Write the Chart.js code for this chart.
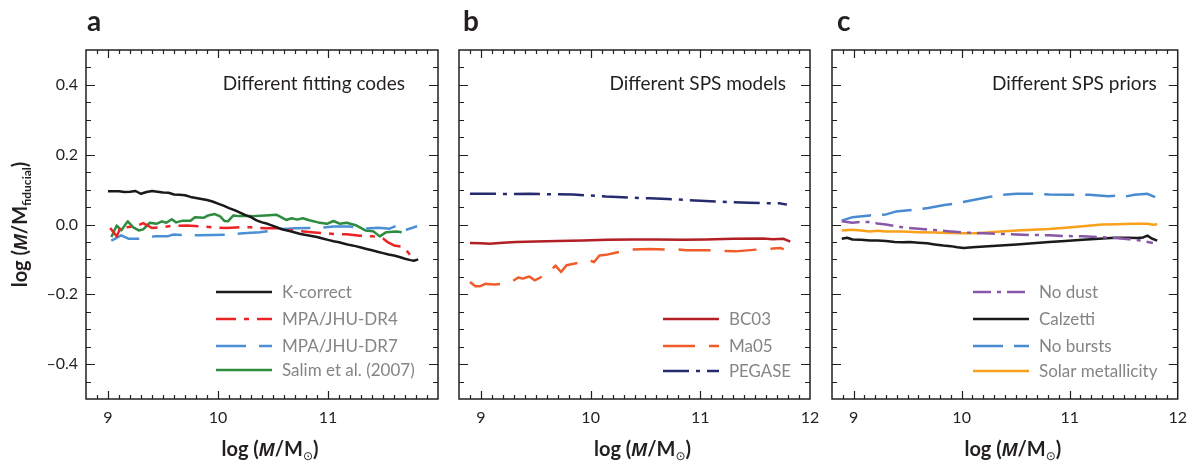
<!DOCTYPE html>
<html><head><meta charset="utf-8">
<script src="https://cdn.jsdelivr.net/npm/chart.js@4.4.1/dist/chart.umd.min.js"></script>
<style>
html,body{margin:0;padding:0;background:#fff;}
#wrap{position:relative;width:1196px;height:462px;background:#fff;}
canvas{position:absolute;left:0;top:0;}
</style></head><body>
<div id="wrap">
<canvas id="ca" width="1196" height="462"></canvas>
<canvas id="cb" width="1196" height="462"></canvas>
<canvas id="cc" width="1196" height="462"></canvas>
</div>
<script>
// ---------- DATA ----------
const panelLetters = ['a', 'b', 'c'];
const panelTitles = ['Different fitting codes', 'Different SPS models', 'Different SPS priors'];
const yTickValues = [-0.4, -0.2, 0, 0.2, 0.4];
const xTickValues = [9, 10, 11, 12];

// Panel a: different fitting codes  [log M, delta log M]
const labelsA = ['K-correct', 'MPA/JHU-DR4', 'MPA/JHU-DR7', 'Salim et al. (2007)'];
const kCorrect = [[9.00,0.095],[9.05,0.095],[9.10,0.095],[9.15,0.093],[9.20,0.094],[9.25,0.096],[9.30,0.088],[9.35,0.093],[9.40,0.096],[9.45,0.094],[9.50,0.092],[9.55,0.091],[9.60,0.086],[9.65,0.085],[9.70,0.084],[9.75,0.079],[9.80,0.076],[9.85,0.073],[9.90,0.070],[9.95,0.066],[10.00,0.060],[10.05,0.054],[10.10,0.047],[10.15,0.041],[10.20,0.034],[10.25,0.027],[10.30,0.021],[10.35,0.012],[10.40,0.006],[10.45,0.002],[10.50,-0.004],[10.55,-0.010],[10.60,-0.015],[10.65,-0.019],[10.70,-0.023],[10.75,-0.027],[10.80,-0.030],[10.85,-0.033],[10.90,-0.036],[10.95,-0.040],[11.00,-0.044],[11.05,-0.048],[11.10,-0.051],[11.15,-0.055],[11.20,-0.059],[11.25,-0.062],[11.30,-0.066],[11.35,-0.070],[11.40,-0.074],[11.45,-0.078],[11.50,-0.082],[11.55,-0.086],[11.60,-0.089],[11.65,-0.093],[11.70,-0.098],[11.75,-0.102],[11.78,-0.104],[11.82,-0.100]];
const mpaDR4 = [[9.02,-0.010],[9.05,-0.022],[9.08,-0.034],[9.12,-0.003],[9.16,-0.008],[9.22,-0.006],[9.27,-0.003],[9.32,0.004],[9.40,-0.010],[9.49,-0.008],[9.58,-0.004],[9.72,-0.003],[9.87,-0.006],[10.00,-0.009],[10.08,-0.010],[10.20,-0.008],[10.30,-0.008],[10.43,-0.011],[10.55,-0.011],[10.67,-0.017],[10.85,-0.022],[11.05,-0.027],[11.17,-0.028],[11.29,-0.032],[11.41,-0.034],[11.50,-0.040],[11.55,-0.052],[11.60,-0.060],[11.69,-0.065],[11.75,-0.089],[11.78,-0.103]];
const mpaDR7 = [[9.03,-0.046],[9.08,-0.038],[9.12,-0.031],[9.19,-0.041],[9.28,-0.041],[9.35,-0.038],[9.42,-0.034],[9.54,-0.034],[9.59,-0.029],[9.70,-0.030],[9.82,-0.031],[9.95,-0.030],[10.08,-0.029],[10.23,-0.025],[10.38,-0.022],[10.47,-0.019],[10.53,-0.014],[10.70,-0.011],[10.89,-0.010],[11.05,-0.006],[11.20,-0.006],[11.32,-0.012],[11.46,-0.009],[11.56,-0.012],[11.62,-0.004],[11.67,-0.020],[11.74,-0.012],[11.81,-0.005]];
const salim = [[9.03,-0.036],[9.08,-0.003],[9.12,-0.017],[9.18,0.009],[9.23,-0.008],[9.28,-0.017],[9.32,-0.014],[9.38,0.005],[9.44,0.002],[9.49,0.009],[9.53,0.005],[9.58,0.015],[9.62,0.006],[9.68,0.011],[9.75,0.011],[9.79,0.021],[9.87,0.019],[9.91,0.026],[9.97,0.030],[10.02,0.023],[10.06,0.010],[10.09,0.009],[10.14,0.026],[10.19,0.024],[10.31,0.024],[10.43,0.026],[10.53,0.028],[10.62,0.013],[10.67,0.018],[10.72,0.014],[10.77,0.018],[10.83,0.012],[10.91,0.006],[10.99,0.002],[11.05,0.010],[11.11,0.002],[11.17,0.005],[11.26,-0.003],[11.34,-0.017],[11.41,-0.019],[11.47,-0.034],[11.53,-0.022],[11.62,-0.020],[11.67,-0.022]];

// Panel b: different SPS models
const labelsB = ['BC03', 'Ma05', 'PEGASE'];
const bc03 = [[8.90,-0.053],[9.00,-0.054],[9.08,-0.055],[9.20,-0.052],[9.32,-0.050],[9.50,-0.049],[9.70,-0.047],[9.93,-0.046],[10.15,-0.044],[10.38,-0.043],[10.60,-0.043],[10.84,-0.044],[11.05,-0.043],[11.30,-0.041],[11.57,-0.040],[11.66,-0.042],[11.76,-0.041],[11.82,-0.049]];
const ma05 = [[8.90,-0.165],[8.95,-0.177],[8.99,-0.177],[9.04,-0.170],[9.08,-0.171],[9.13,-0.172],[9.26,-0.168],[9.34,-0.152],[9.38,-0.155],[9.44,-0.149],[9.49,-0.160],[9.61,-0.141],[9.68,-0.118],[9.73,-0.136],[9.78,-0.117],[9.92,-0.108],[9.98,-0.101],[10.03,-0.108],[10.08,-0.089],[10.14,-0.087],[10.28,-0.077],[10.35,-0.072],[10.54,-0.070],[10.69,-0.072],[10.78,-0.071],[10.87,-0.074],[11.11,-0.074],[11.32,-0.077],[11.51,-0.072],[11.66,-0.069],[11.73,-0.067],[11.76,-0.071]];
const pegase = [[8.90,0.088],[9.10,0.088],[9.29,0.087],[9.45,0.088],[9.60,0.087],[9.84,0.086],[10.00,0.083],[10.14,0.080],[10.35,0.077],[10.54,0.075],[10.70,0.073],[10.84,0.071],[11.00,0.068],[11.14,0.066],[11.30,0.064],[11.45,0.062],[11.60,0.061],[11.72,0.061],[11.79,0.057]];

// Panel c: different SPS priors
const labelsC = ['No dust', 'Calzetti', 'No bursts', 'Solar metallicity'];
const noDust = [[8.89,0.009],[8.99,0.005],[9.07,0.008],[9.15,0.007],[9.22,0.003],[9.30,0.000],[9.45,-0.008],[9.60,-0.012],[9.75,-0.016],[9.90,-0.020],[10.05,-0.023],[10.21,-0.025],[10.36,-0.027],[10.51,-0.029],[10.66,-0.030],[10.81,-0.031],[10.96,-0.033],[11.12,-0.034],[11.27,-0.036],[11.42,-0.039],[11.55,-0.042],[11.66,-0.046],[11.77,-0.053]];
const calzetti = [[8.89,-0.041],[8.94,-0.038],[8.99,-0.043],[9.07,-0.044],[9.15,-0.046],[9.22,-0.046],[9.30,-0.047],[9.38,-0.050],[9.45,-0.051],[9.52,-0.050],[9.60,-0.052],[9.68,-0.054],[9.75,-0.057],[9.83,-0.060],[9.90,-0.062],[9.96,-0.065],[10.02,-0.067],[10.10,-0.065],[10.21,-0.063],[10.36,-0.060],[10.51,-0.057],[10.66,-0.054],[10.81,-0.050],[10.96,-0.047],[11.12,-0.044],[11.27,-0.041],[11.42,-0.038],[11.52,-0.038],[11.63,-0.039],[11.68,-0.037],[11.72,-0.032],[11.76,-0.040],[11.81,-0.046]];
const noBursts = [[8.89,0.011],[8.99,0.021],[9.15,0.026],[9.30,0.029],[9.39,0.037],[9.54,0.042],[9.69,0.047],[9.84,0.056],[9.96,0.061],[10.12,0.071],[10.24,0.078],[10.36,0.085],[10.51,0.088],[10.66,0.088],[10.81,0.086],[11.00,0.085],[11.18,0.085],[11.36,0.081],[11.45,0.083],[11.51,0.080],[11.60,0.085],[11.72,0.088],[11.81,0.076]];
const solarMet = [[8.89,-0.017],[8.99,-0.015],[9.07,-0.017],[9.15,-0.020],[9.22,-0.018],[9.30,-0.020],[9.45,-0.020],[9.60,-0.022],[9.75,-0.023],[9.90,-0.024],[10.02,-0.025],[10.15,-0.025],[10.33,-0.021],[10.51,-0.017],[10.66,-0.015],[10.81,-0.013],[10.96,-0.009],[11.12,-0.005],[11.30,0.000],[11.45,0.001],[11.57,0.002],[11.72,0.002],[11.77,-0.001],[11.81,0.001]];

// ---------- RENDERING ----------
const FONT = 'Lato, "Open Sans", sans-serif';
const INK = '#231f20';
const toXY = arr => arr.map(p => ({x: p[0], y: p[1]}));
const ds = (label, data, color, dash) => ({
  label, data: toXY(data), borderColor: color, backgroundColor: color,
  borderWidth: 2.5, borderDash: dash, pointRadius: 0, tension: 0, fill: false,
  borderCapStyle: 'butt', borderJoinStyle: 'round'
});

function drawRuns(ctx, runs, x, y, align) {
  let w = 0;
  runs.forEach(r => { ctx.font = r.font; w += ctx.measureText(r.t).width; });
  let cx = align === 'center' ? x - w / 2 : x;
  runs.forEach(r => {
    ctx.font = r.font;
    ctx.fillText(r.t, cx, y + (r.dy || 0));
    cx += ctx.measureText(r.t).width;
  });
}

const decorPlugin = {
  id: 'decor',
  afterDraw(chart, args, o) {
    const ctx = chart.ctx;
    const {left, right, top, bottom} = chart.chartArea;
    const xs = chart.scales.x, ys = chart.scales.y;
    ctx.save();
    // inward ticks on all four sides
    ctx.strokeStyle = INK; ctx.lineWidth = 1.2;
    ctx.beginPath();
    for (let i = 89; i <= 119; i++) {
      const px = Math.round(xs.getPixelForValue(i / 10)) + 0.5;
      const len = (i % 10 === 0) ? 8 : 4;
      ctx.moveTo(px, bottom); ctx.lineTo(px, bottom - len);
      ctx.moveTo(px, top); ctx.lineTo(px, top + len);
    }
    for (let j = -9; j <= 9; j++) {
      const py = Math.round(ys.getPixelForValue(j * 0.05)) + 0.5;
      const len = (j % 4 === 0) ? 9 : 5;
      ctx.moveTo(left, py); ctx.lineTo(left + len, py);
      ctx.moveTo(right, py); ctx.lineTo(right - len, py);
    }
    ctx.stroke();
    // frame
    ctx.lineWidth = 1.5;
    ctx.strokeRect(left, top, right - left, bottom - top);

    // panel letter
    ctx.fillStyle = INK;
    ctx.textBaseline = 'alphabetic';
    ctx.textAlign = 'left';
    ctx.font = 'bold 28px ' + FONT;
    ctx.fillText(o.letter, left + o.letterDx, 31);
    // panel subtitle
    ctx.font = '19px ' + FONT;
    ctx.textAlign = 'right';
    ctx.fillText(o.title, right - o.titleDx, 90);

    // legend
    ctx.textAlign = 'left';
    ctx.textBaseline = 'middle';
    chart.data.datasets.forEach((d, i) => {
      const yy = o.legRows[i];
      ctx.strokeStyle = d.borderColor;
      ctx.lineWidth = 2.5;
      ctx.setLineDash(d.borderDash || []);
      ctx.beginPath();
      ctx.moveTo(left + o.legX, yy); ctx.lineTo(left + o.legX + 56, yy);
      ctx.stroke();
      ctx.setLineDash([]);
      ctx.fillStyle = '#858585';
      ctx.font = '17px ' + FONT;
      const tx = left + o.legX + 66;
      ctx.fillText(d.label, tx, yy + 1, right - tx - 19);
    });

    // x axis title
    ctx.fillStyle = INK;
    ctx.textBaseline = 'alphabetic';
    ctx.textAlign = 'left';
    const B = 'bold 20px ' + FONT;
    const BI = 'italic bold 19px "Liberation Sans", "DejaVu Sans", sans-serif';
    drawRuns(ctx, [
      {t: 'log (', font: B},
      {t: 'M', font: BI},
      {t: '/M', font: B},
      {t: '\u2299', font: '12px "DejaVu Sans"', dy: 4},
      {t: ')', font: B}
    ], (left + right) / 2 + 8, 456, 'center');

    // y axis title (panel a only)
    if (o.yTitle) {
      ctx.translate(27, (top + bottom) / 2);
      ctx.rotate(-Math.PI / 2);
      drawRuns(ctx, [
        {t: 'log (', font: B},
        {t: 'M', font: BI},
        {t: '/M', font: B},
        {t: 'fiducial', font: 'bold 12px ' + FONT, dy: 4},
        {t: ')', font: B}
      ], 0, 0, 'center');
    }
    ctx.restore();
  }
};

function makeChart(id, datasets, padL, padR, showY, hide12, decor) {
  return new Chart(document.getElementById(id), {
    type: 'line',
    data: {datasets},
    options: {
      responsive: false, animation: false, events: [],
      layout: {padding: {left: padL, right: padR, top: 50, bottom: 0}},
      plugins: {legend: {display: false}, tooltip: {enabled: false}, decor},
      scales: {
        x: {
          type: 'linear', min: 8.8, max: 12.0, position: 'bottom',
          grid: {display: false, drawTicks: false}, border: {display: false},
          afterFit: s => { s.height = 63; },
          afterBuildTicks: s => { s.ticks = xTickValues.filter(v => !(hide12 && v === 12)).map(v => ({value: v})); },
          ticks: {stepSize: 1, includeBounds: false, autoSkip: false, maxRotation: 0, padding: 9,
                  color: INK, font: {family: FONT, size: 16},
                  callback: v => String(v)}
        },
        y: {
          type: 'linear', min: -0.5, max: 0.5,
          grid: {display: false, drawTicks: false}, border: {display: false},
          afterFit: s => { s.width = showY ? 86 : 0; },
          afterBuildTicks: s => { s.ticks = yTickValues.map(v => ({value: v})); },
          ticks: {display: showY, stepSize: 0.2, includeBounds: false, padding: 8,
                  color: INK, font: {family: FONT, size: 16},
                  callback: v => Math.abs(v) < 1e-9 ? '0.0' : (v < 0 ? '\u2013' + Math.abs(v).toFixed(1) : v.toFixed(1))}
        }
      }
    },
    plugins: [decorPlugin]
  });
}

makeChart('ca', [
  ds(labelsA[0], kCorrect, '#1a1a1a', []),
  ds(labelsA[1], mpaDR4, '#ec2227', [20, 8, 5, 8]),
  ds(labelsA[2], mpaDR7, '#4b8fd5', [30, 13]),
  ds(labelsA[3], salim, '#2d8c3e', [])
], 0, 758, true, true,
{letter: panelLetters[0], letterDx: 1, title: panelTitles[0], titleDx: 33, legX: 130, legRows: [292, 319, 346, 370], yTitle: true});

makeChart('cb', [
  ds(labelsB[0], bc03, '#b21f24', []),
  ds(labelsB[1], ma05, '#f15a29', [32, 14]),
  ds(labelsB[2], pegase, '#262b6f', [26, 7, 4, 7])
], 459, 386, false, false,
{letter: panelLetters[1], letterDx: 4, title: panelTitles[1], titleDx: 24, legX: 204, legRows: [319, 346, 371], yTitle: false});

makeChart('cc', [
  ds(labelsC[0], noDust, '#8957a7', [18, 6, 4, 6]),
  ds(labelsC[1], calzetti, '#1a1a1a', []),
  ds(labelsC[2], noBursts, '#4a8ad0', [30, 11]),
  ds(labelsC[3], solarMet, '#f9a11b', [])
], 832, 13, false, false,
{letter: panelLetters[2], letterDx: 5, title: panelTitles[2], titleDx: 21, legX: 141, legRows: [292, 319, 346, 371], yTitle: false});
</script>
</body></html>
